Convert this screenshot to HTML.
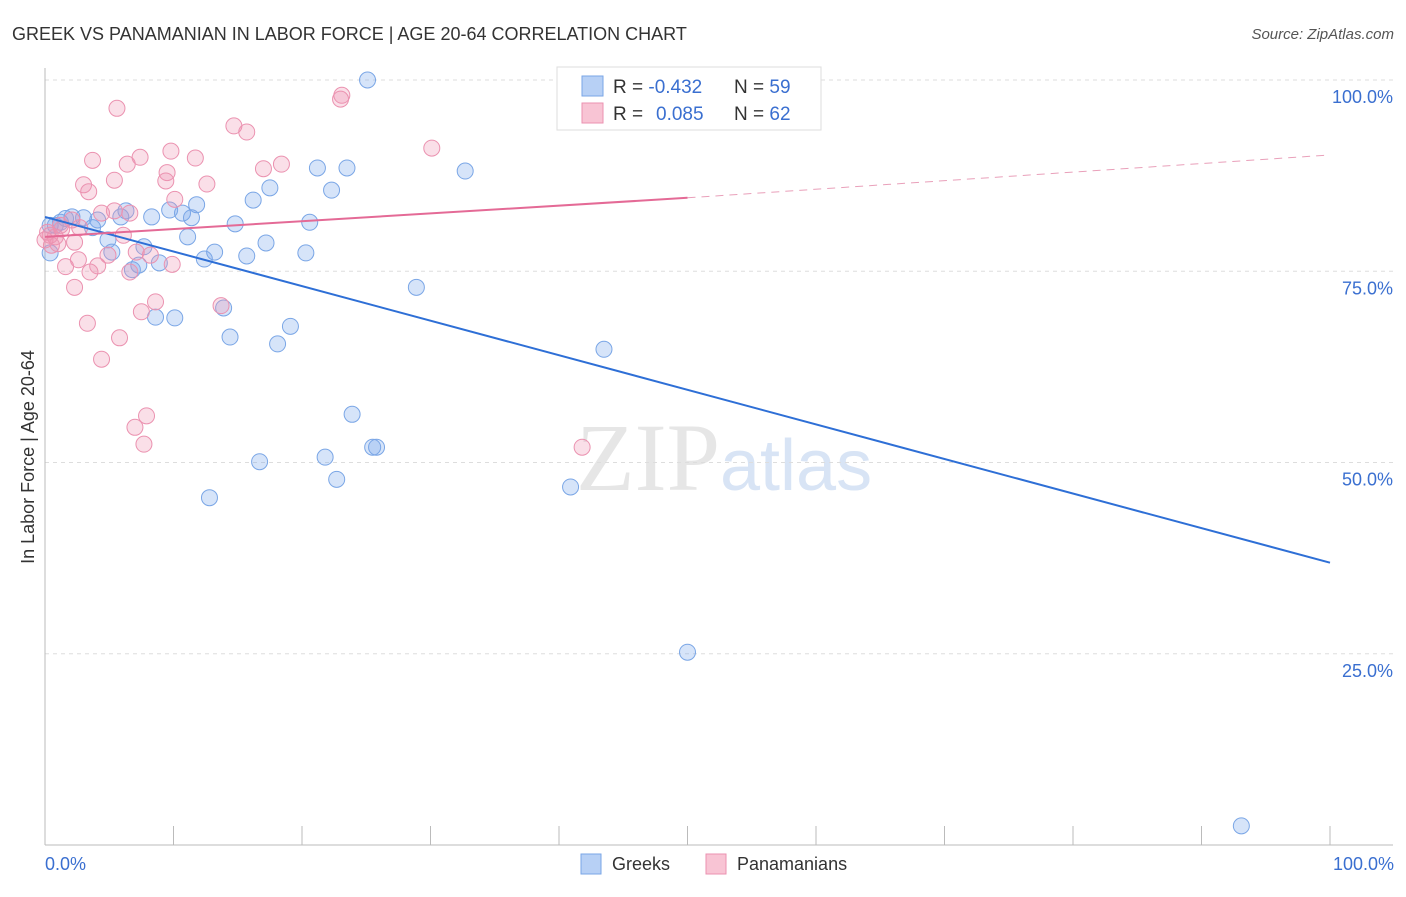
<!DOCTYPE html>
<html><head><meta charset="utf-8"><style>
body{margin:0;background:#fff;font-family:"Liberation Sans",sans-serif}
</style></head><body>
<svg id="c" width="1406" height="892" xmlns="http://www.w3.org/2000/svg" font-family="Liberation Sans, sans-serif">
<text x="12" y="40" font-size="18" fill="#333">GREEK VS PANAMANIAN IN LABOR FORCE | AGE 20-64 CORRELATION CHART</text>
<text x="1394" y="39" font-size="15" fill="#555" font-style="italic" text-anchor="end">Source: ZipAtlas.com</text>
<text x="720" y="490" font-size="96" fill="#e6e6e6" text-anchor="end" font-family="Liberation Serif, serif">ZIP</text>
<text x="720" y="490" font-size="72" fill="#d8e4f5">atlas</text>
<g id="grid"></g><g id="axes"></g><g id="pts"></g><g id="lines"></g>
<text transform="translate(34,457) rotate(-90)" font-size="18" fill="#333" text-anchor="middle">In Labor Force | Age 20-64</text>
<text x="45" y="870" font-size="18" fill="#3a6fd0">0.0%</text>
<text x="1394" y="870" font-size="18" fill="#3a6fd0" text-anchor="end">100.0%</text>
<g>
<rect x="557" y="67" width="264" height="63" fill="#fff" stroke="#ddd"/>
<rect x="582" y="76" width="21" height="20" fill="#b7d0f5" stroke="#7aa6e6"/>
<rect x="582" y="103" width="21" height="20" fill="#f8c4d4" stroke="#eb92b0"/>
<text x="613" y="93" font-size="19" fill="#333">R = <tspan fill="#3a6fd0">-0.432</tspan></text>
<text x="734" y="93" font-size="19" fill="#333">N = <tspan fill="#3a6fd0">59</tspan></text>
<text x="613" y="120" font-size="19" fill="#333">R = <tspan fill="#3a6fd0" x="656">0.085</tspan></text>
<text x="734" y="120" font-size="19" fill="#333">N = <tspan fill="#3a6fd0">62</tspan></text>
</g>
<g>
<rect x="581" y="854" width="20" height="20" fill="#b7d0f5" stroke="#7aa6e6"/>
<text x="612" y="870" font-size="18" fill="#333">Greeks</text>
<rect x="706" y="854" width="20" height="20" fill="#f8c4d4" stroke="#eb92b0"/>
<text x="737" y="870" font-size="18" fill="#333">Panamanians</text>
</g>
</svg>
<script>
const yTicks=[100,75,50,25];
const yTickLabels=["100.0%","75.0%","50.0%","25.0%"];
const xTicks=[0,10,20,30,40,50,60,70,80,90,100];
const greekX=[25.1,51.6,56.3,32.7,21.2,23.5,22.3,17.5,16.2,11.8,6.3,8.3,9.7,10.7,11.4,14.8,20.6,5.9,4.1,3.0,2.1,1.2,0.4,3.7,4.9,7.7,11.1,17.2,13.2,15.7,20.3,12.4,8.9,7.3,6.8,5.2,28.9,8.6,10.1,13.9,19.1,14.4,18.1,43.5,23.9,25.8,25.5,21.8,16.7,22.7,40.9,12.8,50.0,93.1,0.4,0.8,1.6];
const greekY=[100,100,100,88.1,88.5,88.5,85.6,85.9,84.3,83.7,82.9,82.1,83.0,82.6,82.0,81.2,81.4,82.1,81.7,82.0,82.1,81.4,81.0,80.7,79.1,78.2,79.5,78.7,77.5,77.0,77.4,76.6,76.1,75.8,75.2,77.5,72.9,69.0,68.9,70.2,67.8,66.4,65.5,64.8,56.3,52.0,52.0,50.7,50.1,47.8,46.8,45.4,25.2,2.5,77.4,81.0,81.9];
const panX=[5.6,23.1,23.0,14.7,15.7,30.1,3.7,9.8,7.4,11.7,6.4,18.4,17.0,9.5,9.4,5.4,3.0,3.4,12.6,10.1,5.4,4.4,6.6,2.1,1.2,0.2,0.8,1.0,2.3,6.1,2.7,0.5,8.2,4.9,7.1,2.6,1.6,4.1,9.9,3.5,6.6,2.3,8.6,13.7,7.5,3.3,5.8,4.4,7.9,7.0,7.7,41.8,0,0.4,1.3];
const panY=[96.3,98.0,97.5,94.0,93.2,91.1,89.5,90.7,89.9,89.8,89.0,89.0,88.4,87.9,86.8,86.9,86.3,85.4,86.4,84.4,82.9,82.6,82.6,81.7,81.0,80.1,79.5,78.6,78.8,79.7,80.7,78.4,77.1,77.1,77.5,76.5,75.6,75.7,75.9,74.9,74.9,72.9,71.0,70.5,69.7,68.2,66.3,63.5,56.1,54.6,52.4,52.0,79.1,79.7,80.5];
const greekTrend=[82.1,36.9];
const panTrend=[79.5,84.6,90.2];
const X=v=>45+v*12.85, Y=v=>845-v*7.65;
const NS='http://www.w3.org/2000/svg';
function mk(t,a,p){const e=document.createElementNS(NS,t);for(const k in a)e.setAttribute(k,a[k]);document.getElementById(p).appendChild(e);return e;}
yTicks.forEach((t,i)=>{
 const l=mk('line',{x1:45,x2:1393,y1:Y(t),y2:Y(t),stroke:'#ddd','stroke-dasharray':'4,4'},'grid');
 
 
 const tx=mk('text',{x:1393,y:Y(t)+23,'font-size':18,fill:'#3a6fd0','text-anchor':'end'},'grid');
 tx.textContent=yTickLabels[i];
 
 
});
const ax=mk('line',{x1:45,x2:45,y1:68,y2:845,stroke:'#bbb'},'axes');


const bx=mk('line',{x1:45,x2:1393,y1:845,y2:845,stroke:'#bbb'},'axes');


xTicks.forEach(t=>{const l=mk('line',{x1:X(t),x2:X(t),y1:826,y2:845,stroke:'#bbb'},'axes');
 
 });
greekX.forEach((x,i)=>{const c=mk('circle',{cx:X(x),cy:Y(greekY[i]),r:8,fill:'rgba(120,165,235,0.3)',stroke:'#7aa6e6','stroke-width':1},'pts');
 
 });
panX.forEach((x,i)=>{const c=mk('circle',{cx:X(x),cy:Y(panY[i]),r:8,fill:'rgba(240,150,180,0.3)',stroke:'#eb92b0','stroke-width':1},'pts');
 
 });
const g=mk('line',{x1:X(0),y1:Y(greekTrend[0]),x2:X(100),y2:Y(greekTrend[1]),stroke:'#2e6fd6','stroke-width':2},'lines');


const p=mk('line',{x1:X(0),y1:Y(panTrend[0]),x2:X(50),y2:Y(panTrend[1]),stroke:'#e46a96','stroke-width':2},'lines');


const pd=mk('line',{x1:X(50),y1:Y(panTrend[1]),x2:X(100),y2:Y(panTrend[2]),stroke:'#e9a0ba','stroke-width':1,'stroke-dasharray':'8,6'},'lines');


</script>
</body></html>
